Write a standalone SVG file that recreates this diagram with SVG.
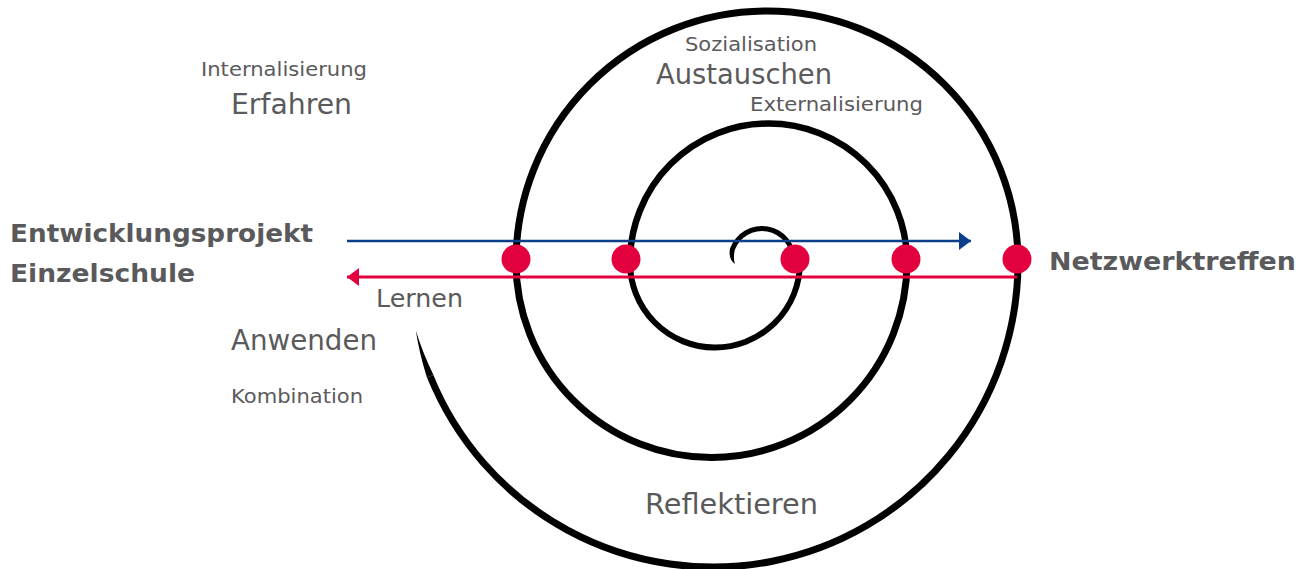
<svg xmlns="http://www.w3.org/2000/svg" width="1309" height="569" viewBox="0 0 1309 569">
  <style>
    .lbl { font-family: "DejaVu Sans", "Liberation Sans", sans-serif; fill: #5a5a5c; }
    .bold { font-weight: bold; font-size: 25px; }
    .big { font-size: 28px; }
    .mid { font-size: 25px; }
    .small { font-size: 20px; }
    .spiral { fill: none; stroke: #000; stroke-linecap: butt; }
    .dot { fill: #e3003e; }
  </style>
  <defs>
    <marker id="headBlue" markerUnits="userSpaceOnUse" markerWidth="14" markerHeight="20" refX="12" refY="9" orient="auto">
      <path d="M0 0 L12 9 L0 18 Z" fill="#0b3f8c"/>
    </marker>
    <marker id="headRed" markerUnits="userSpaceOnUse" markerWidth="14" markerHeight="20" refX="12" refY="9" orient="auto">
      <path d="M0 0 L12 9 L0 18 Z" fill="#e3003e"/>
    </marker>
  </defs>

  <rect width="1309" height="569" fill="#fff"/>

  <!-- spiral made of alternating half-circles, tapered at both ends -->
  <g id="spiral">
    <path d="M735 264 Q728 259 730.05 248.4 A34 34 0 0 1 796 260 L791 260 A29 29 0 0 0 734.75 250.08 Q733 258 735 264 Z" fill="#000"/>
    <path class="spiral" stroke-width="6" d="M800 263 A85 85 0 0 1 630 262"/>
    <path class="spiral" stroke-width="6.5" d="M630 262 A138.5 138.5 0 0 1 907 262"/>
    <path class="spiral" stroke-width="7" d="M907 262 A195.5 195.5 0 0 1 516 262"/>
    <path class="spiral" stroke-width="7" d="M516 262 A251 251 0 0 1 1018 262"/>
    <path class="spiral" stroke-width="7" d="M1018 262 A305 305 0 0 1 430.2 376.3"/>
    <path d="M426.96 377.57 A308.5 308.5 0 0 1 415.8 330.6 A301.5 301.5 0 0 0 433.46 374.95 Z" fill="#000"/>
  </g>

  <!-- flow arrows between school and network -->
  <g id="connectors">
    <line x1="347" y1="241" x2="971" y2="241" stroke="#0b3f8c" stroke-width="2.6" marker-end="url(#headBlue)"/>
    <line x1="1017" y1="277" x2="347" y2="277" stroke="#e3003e" stroke-width="2.8" marker-end="url(#headRed)"/>
  </g>

  <g id="dots">
    <circle class="dot" cx="516" cy="259" r="14.5"/>
    <circle class="dot" cx="626" cy="259" r="14.5"/>
    <circle class="dot" cx="795" cy="259" r="14.5"/>
    <circle class="dot" cx="906" cy="259" r="14.5"/>
    <circle class="dot" cx="1017" cy="259" r="14.5"/>
  </g>

  <g id="school">
    <text class="lbl bold" x="10" y="242" textLength="303" lengthAdjust="spacingAndGlyphs">Entwicklungsprojekt</text>
    <text class="lbl bold" x="10" y="282" textLength="185" lengthAdjust="spacingAndGlyphs">Einzelschule</text>
  </g>
  <g id="network">
    <text class="lbl bold" x="1049" y="270" textLength="247" lengthAdjust="spacingAndGlyphs">Netzwerktreffen</text>
  </g>
  <g id="learn">
    <text class="lbl mid" x="376" y="307" textLength="87" lengthAdjust="spacingAndGlyphs">Lernen</text>
  </g>
  <g id="apply">
    <text class="lbl big" x="231" y="350" textLength="146" lengthAdjust="spacingAndGlyphs">Anwenden</text>
    <text class="lbl small" x="231" y="403" textLength="132" lengthAdjust="spacingAndGlyphs">Kombination</text>
  </g>
  <g id="experience">
    <text class="lbl small" x="201" y="76" textLength="166" lengthAdjust="spacingAndGlyphs">Internalisierung</text>
    <text class="lbl big" x="231" y="114" textLength="121" lengthAdjust="spacingAndGlyphs">Erfahren</text>
  </g>
  <g id="exchange">
    <text class="lbl small" x="685" y="51" textLength="132" lengthAdjust="spacingAndGlyphs">Sozialisation</text>
    <text class="lbl big" x="656" y="84" textLength="176" lengthAdjust="spacingAndGlyphs">Austauschen</text>
    <text class="lbl small" x="750" y="111" textLength="173" lengthAdjust="spacingAndGlyphs">Externalisierung</text>
  </g>
  <g id="reflect">
    <text class="lbl big" x="645" y="514" textLength="173" lengthAdjust="spacingAndGlyphs">Reflektieren</text>
  </g>
</svg>
